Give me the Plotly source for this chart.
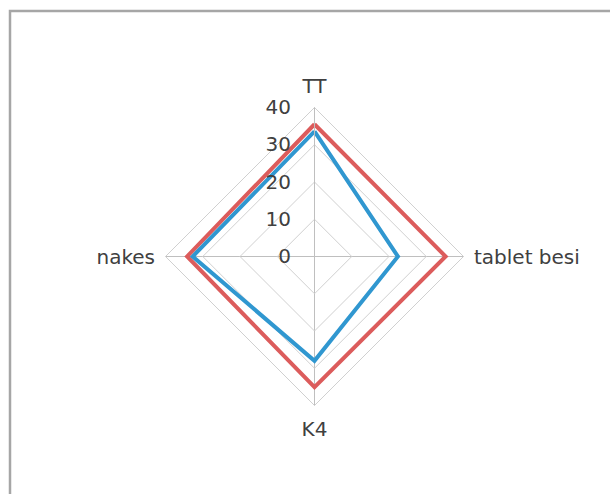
import plotly.graph_objects as go

categories = ["TT", "tablet besi", "K4", "nakes"]
series_red = [35.5, 35.2, 35.1, 34.2]
series_blue = [33.6, 22.4, 28.0, 32.7]
tick_vals = [0, 10, 20, 30, 40]

W, H = 610, 494
cx, cy, R = 314.5, 256.5, 149

fig = go.Figure()
fig.add_trace(go.Scatterpolar(
    r=series_red + series_red[:1], theta=categories + categories[:1],
    mode="lines", line=dict(color="#DC5C5C", width=4), name="Series 1"))
fig.add_trace(go.Scatterpolar(
    r=series_blue + series_blue[:1], theta=categories + categories[:1],
    mode="lines", line=dict(color="#3097D0", width=4), name="Series 2"))

fig.update_layout(
    width=W, height=H, margin=dict(l=0, r=0, t=0, b=0),
    paper_bgcolor="white", plot_bgcolor="white", showlegend=False,
    font=dict(family="DejaVu Sans", size=20, color="#404040"),
    polar=dict(
        domain=dict(x=[(cx - R) / W, (cx + R) / W], y=[1 - (cy + R) / H, 1 - (cy - R) / H]),
        bgcolor="white",
        gridshape="linear",
        radialaxis=dict(range=[0, 40], tickvals=tick_vals, angle=90, side="counterclockwise",
                        tickangle=90,
                        showline=True, linecolor="#BFBFBF", linewidth=1,
                        gridcolor="#D0D0D0", gridwidth=1,
                        ticks="outside", ticklen=16, tickcolor="rgba(0,0,0,0)",
                        tickfont=dict(size=20, color="#404040")),
        angularaxis=dict(rotation=90, direction="clockwise", showline=True,
                         linecolor="#D0D0D0", linewidth=1, gridcolor="#BFBFBF",
                         ticks="outside", ticklen=6, tickcolor="rgba(0,0,0,0)",
                         tickfont=dict(size=20, color="#404040")),
    ),
    shapes=[dict(type="rect", xref="paper", yref="paper",
                 x0=10 / W, x1=1.2, y0=-0.2, y1=1 - 11 / H,
                 line=dict(color="#A6A6A6", width=2.5), layer="below")],
)
fig.write_html("out.html", config={"displayModeBar": False},
               post_script="document.body.style.margin='0';")
